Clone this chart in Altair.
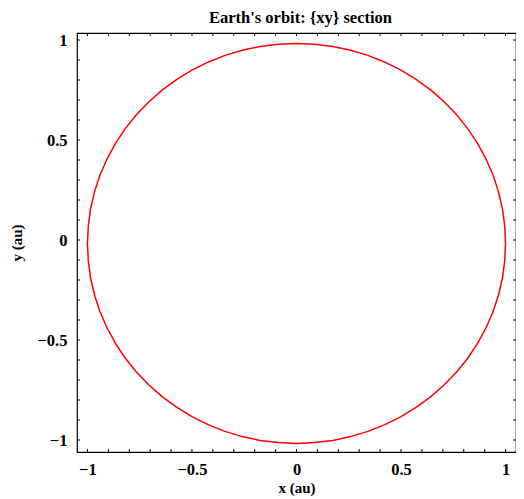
import altair as alt
import pandas as pd

# Orbit points (x, y in au), every 5 degrees round the orbit
orbit_x = [1.000, 0.996, 0.985, 0.966, 0.940, 0.906, 0.866, 0.819, 0.766, 0.707,
           0.643, 0.574, 0.500, 0.423, 0.342, 0.259, 0.174, 0.087, 0.000,
           -0.087, -0.174, -0.259, -0.342, -0.423, -0.500, -0.574, -0.643, -0.707,
           -0.766, -0.819, -0.866, -0.906, -0.940, -0.966, -0.985, -0.996, -1.000,
           -0.996, -0.985, -0.966, -0.940, -0.906, -0.866, -0.819, -0.766, -0.707,
           -0.643, -0.574, -0.500, -0.423, -0.342, -0.259, -0.174, -0.087, 0.000,
           0.087, 0.174, 0.259, 0.342, 0.423, 0.500, 0.574, 0.643, 0.707,
           0.766, 0.819, 0.866, 0.906, 0.940, 0.966, 0.985, 0.996, 1.000]
orbit_y = [-0.017, 0.070, 0.157, 0.242, 0.325, 0.406, 0.483, 0.557, 0.626, 0.690,
           0.749, 0.802, 0.849, 0.889, 0.923, 0.949, 0.968, 0.979, 0.983,
           0.979, 0.968, 0.949, 0.923, 0.889, 0.849, 0.802, 0.749, 0.690,
           0.626, 0.557, 0.483, 0.406, 0.325, 0.242, 0.157, 0.070, -0.017,
           -0.104, -0.191, -0.276, -0.359, -0.440, -0.517, -0.591, -0.660, -0.724,
           -0.783, -0.836, -0.883, -0.923, -0.957, -0.983, -1.002, -1.013, -1.017,
           -1.013, -1.002, -0.983, -0.957, -0.923, -0.883, -0.836, -0.783, -0.724,
           -0.660, -0.591, -0.517, -0.440, -0.359, -0.276, -0.191, -0.104, -0.017]

major_ticks = [-1, -0.5, 0, 0.5, 1]
minor_ticks_x = [-1.0, -0.9, -0.8, -0.7, -0.6, -0.5, -0.4, -0.3, -0.2, -0.1, 0.0,
                 0.1, 0.2, 0.3, 0.4, 0.5, 0.6, 0.7, 0.8, 0.9, 1.0]
minor_ticks_y = [-1.0, -0.9, -0.8, -0.7, -0.6, -0.5, -0.4, -0.3, -0.2, -0.1, 0.0,
                 0.1, 0.2, 0.3, 0.4, 0.5, 0.6, 0.7, 0.8, 0.9, 1.0]

FONT = "Liberation Serif"
W, H = 439, 419

orbit = pd.DataFrame({"x": orbit_x, "y": orbit_y, "i": list(range(len(orbit_x)))})
tx = pd.DataFrame({"x": minor_ticks_x})
ty = pd.DataFrame({"y": minor_ticks_y})

xs = alt.Scale(domain=[-1.05, 1.05], nice=False, zero=False)
ys = alt.Scale(domain=[-1.06, 1.035], nice=False, zero=False)

x_axis = alt.Axis(
    values=major_ticks, format="~g", ticks=False, domain=False, grid=False,
    labelFont=FONT, labelFontSize=16.5, labelFontWeight="bold", labelColor="black",
    labelPadding=9, title="x (au)", titleFont=FONT, titleFontSize=15,
    titleFontWeight="bold", titleColor="black", titlePadding=3)
y_axis = alt.Axis(
    values=major_ticks, format="~g", ticks=False, domain=False, grid=False,
    labelFont=FONT, labelFontSize=16.5, labelFontWeight="bold", labelColor="black",
    labelPadding=10, title="y (au)", titleFont=FONT, titleFontSize=15,
    titleFontWeight="bold", titleColor="black", titlePadding=12)

line = alt.Chart(orbit).mark_line(color="#ff0000", strokeWidth=1.5).encode(
    x=alt.X("x:Q", scale=xs, axis=x_axis),
    y=alt.Y("y:Q", scale=ys, axis=y_axis),
    order="i:Q",
)

tick_bottom = alt.Chart(tx).mark_rule(color="black", strokeWidth=1).encode(
    x=alt.X("x:Q", scale=xs, axis=x_axis), y=alt.value(H), y2=alt.value(H - 3))
tick_top = alt.Chart(tx).mark_rule(color="black", strokeWidth=1).encode(
    x=alt.X("x:Q", scale=xs, axis=x_axis), y=alt.value(0), y2=alt.value(3))
tick_left = alt.Chart(ty).mark_rule(color="black", strokeWidth=1).encode(
    y=alt.Y("y:Q", scale=ys, axis=y_axis), x=alt.value(0), x2=alt.value(3))
tick_right = alt.Chart(ty).mark_rule(color="black", strokeWidth=1).encode(
    y=alt.Y("y:Q", scale=ys, axis=y_axis), x=alt.value(W), x2=alt.value(W - 3))

chart = alt.layer(line, tick_bottom, tick_top, tick_left, tick_right).properties(
    width=W, height=H, background="white",
    title=alt.TitleParams("Earth's orbit: {xy} section", font=FONT, fontSize=16.5,
                          fontWeight="bold", color="black", anchor="middle",
                          offset=6, dx=4),
    autosize=alt.AutoSizeParams(type="none"),
    padding={"left": 69, "top": 25, "right": 0, "bottom": 45},
).configure_view(stroke="black", strokeWidth=1.2)

chart.save("out.html", embed_options={"renderer": "svg", "actions": False})
